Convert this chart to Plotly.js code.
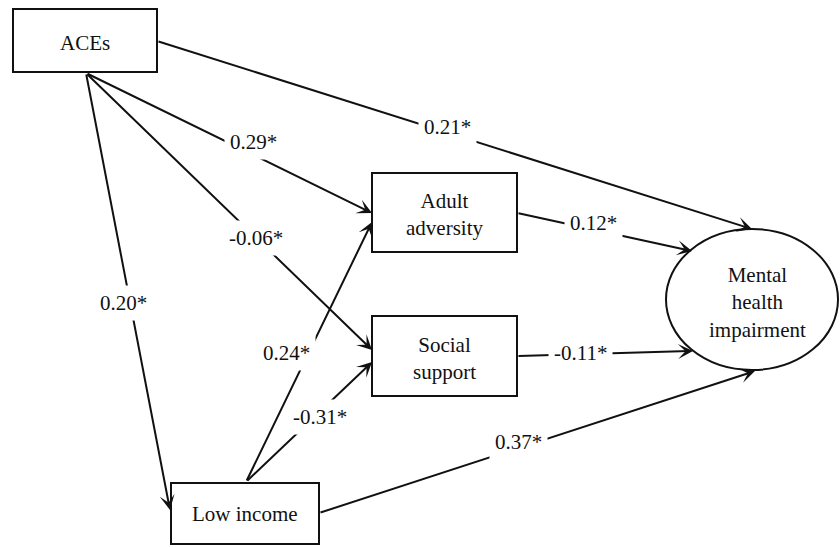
<!DOCTYPE html>
<html>
<head>
<meta charset="utf-8">
<script src="https://cdn.plot.ly/plotly-3.0.1.min.js"></script>
<style>
  html, body { margin: 0; padding: 0; background: #ffffff; }
  #chart { width: 840px; height: 547px; }
</style>
</head>
<body>
<div id="chart"></div>
<script>
// ---- Data (path model) ----
const nodeNames = ["ACEs", "Adult<br>adversity", "Social<br>support", "Low income", "Mental<br>health<br>impairment"];
const nodeKinds = ["rect", "rect", "rect", "rect", "ellipse"];
const edgeFrom = [0, 0, 0, 0, 3, 3, 3, 1, 2];
const edgeTo   = [4, 1, 2, 3, 1, 2, 4, 4, 4];
const edgeCoef = ["0.21*", "0.29*", "-0.06*", "0.20*", "0.24*", "-0.31*", "0.37*", "0.12*", "-0.11*"];

// ---- Layout geometry (diagram coordinates = pixels, y down) ----
const nodeBox = [
  [13, 9, 157, 72],
  [372, 173, 517, 252],
  [372, 316, 517, 396],
  [171, 483, 319, 544],
  [666, 229, 838, 370]
];
const nodeTextPos = [[85, 43], [444.5, 214], [444.5, 358], [245, 514], [757, 302]];
const edgeTail = [[157, 41], [86, 73], [86, 73], [86, 73], [246, 482], [246, 482], [319, 513], [517, 213], [517, 356]];
const edgeTip  = [[752, 229], [372, 213], [372, 350], [170, 510], [372, 222], [372, 362], [755, 371], [692, 251], [693, 351]];
const labelPos = [[447, 127], [253, 142], [256, 238], [123, 303], [286, 353], [320, 417], [518, 442], [593, 223], [580, 353]];

const FONT = {family: "'Liberation Serif', 'Times New Roman', Tinos, serif", size: 21, color: "#111111"};

const shapes = nodeBox.map((b, i) => ({
  type: nodeKinds[i] === "ellipse" ? "circle" : "rect",
  xref: "x", yref: "y",
  x0: b[0], y0: b[1], x1: b[2], y1: b[3],
  line: {color: "#111111", width: 2},
  fillcolor: "#ffffff",
  layer: "above"
}));

const annotations = [];
edgeFrom.forEach((f, i) => {
  annotations.push({
    xref: "x", yref: "y", axref: "x", ayref: "y",
    x: edgeTip[i][0], y: edgeTip[i][1],
    ax: edgeTail[i][0], ay: edgeTail[i][1],
    text: "", showarrow: true,
    arrowhead: 3, arrowsize: 1.25, arrowwidth: 2, arrowcolor: "#111111",
    standoff: 0, startstandoff: 0
  });
});
edgeCoef.forEach((c, i) => {
  annotations.push({
    xref: "x", yref: "y",
    x: labelPos[i][0], y: labelPos[i][1],
    text: c, showarrow: false,
    font: FONT, bgcolor: "#ffffff", borderpad: 5,
    xanchor: "center", yanchor: "middle"
  });
});
nodeNames.forEach((n, i) => {
  annotations.push({
    xref: "x", yref: "y",
    x: nodeTextPos[i][0], y: nodeTextPos[i][1],
    text: n, showarrow: false, font: FONT,
    xanchor: "center", yanchor: "middle", align: "center"
  });
});

const layout = {
  width: 840, height: 547,
  margin: {l: 0, r: 0, t: 0, b: 0, pad: 0},
  paper_bgcolor: "#ffffff", plot_bgcolor: "#ffffff",
  font: FONT,
  xaxis: {range: [0, 840], visible: false, fixedrange: true},
  yaxis: {range: [547, 0], visible: false, fixedrange: true},
  showlegend: false,
  shapes: shapes,
  annotations: annotations
};

Plotly.newPlot("chart", [], layout, {staticPlot: true, displayModeBar: false});
</script>
</body>
</html>
